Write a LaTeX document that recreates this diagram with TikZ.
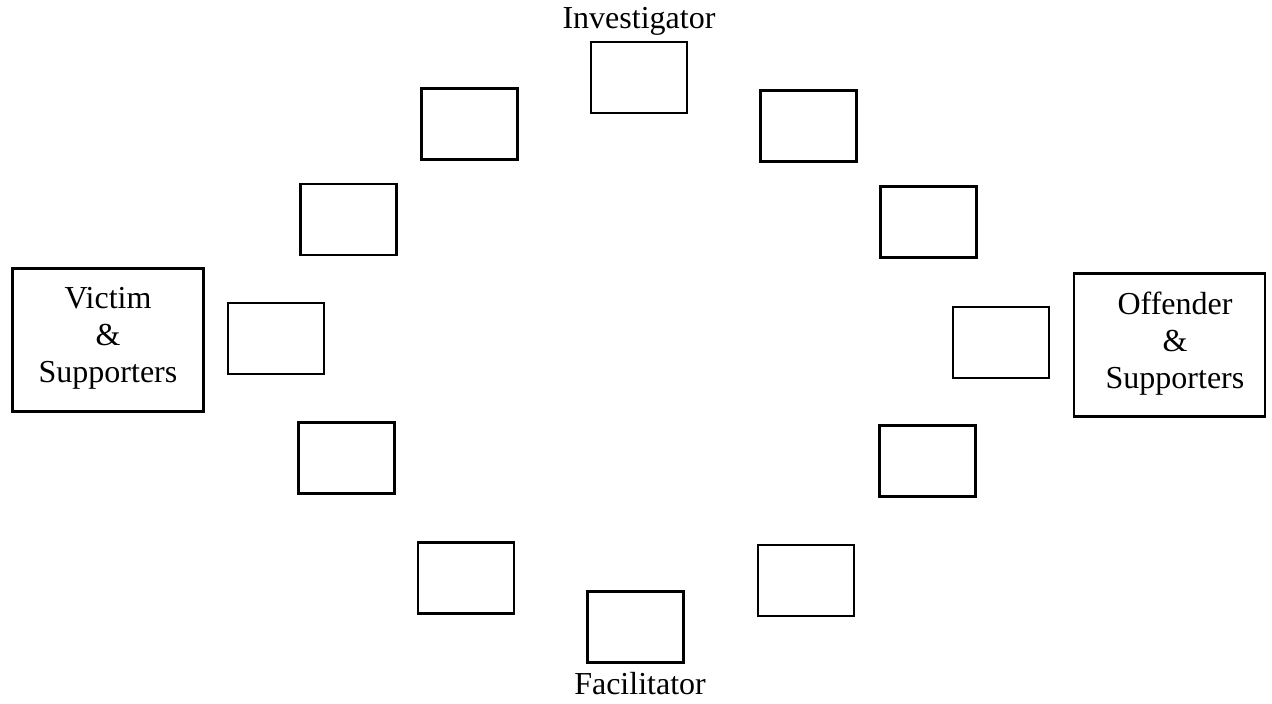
\documentclass[tikz,border=0pt]{standalone}
\usepackage{fontspec}
\setmainfont{Liberation Serif}
\begin{document}
\begin{tikzpicture}[x=0.5pt,y=-0.5pt,
  seat/.style={draw, line width=1.1pt, minimum width=48pt, minimum height=35.5pt, inner sep=0pt},
  party/.style={draw, line width=1.1pt, minimum width=95.5pt, minimum height=71.5pt, inner sep=0pt},
  lbl/.style={font=\fontsize{16}{18.5}\selectfont, inner sep=0pt, align=center}]
\useasboundingbox (0,0) rectangle (1272,704);
\node[seat] (top) at (639,77.5) {};
\node[seat] (tl) at (469.5,124) {};
\node[seat] (tr) at (808.5,126) {};
\node[seat] (l2) at (348.5,219.5) {};
\node[seat] (r2) at (928.5,222) {};
\node[seat] (l3) at (276,338.5) {};
\node[seat] (r3) at (1001,342.5) {};
\node[seat] (l4) at (346.5,458) {};
\node[seat] (r4) at (927.5,461) {};
\node[seat] (l5) at (466,578) {};
\node[seat] (r5) at (806,580.5) {};
\node[seat] (bot) at (635.5,627) {};
\node[party] (victim) at (108,340) {};
\node[lbl] (victimtxt) at (108,338) {Victim\\\&\\Supporters};
\node[party] (offender) at (1169.5,345) {};
\node[lbl] (offendertxt) at (1175,344) {Offender\\\&\\Supporters};
\node[lbl] (inv) at (639,21) {Investigator};
\node[lbl] (fac) at (640,684) {Facilitator};
\end{tikzpicture}
\end{document}
